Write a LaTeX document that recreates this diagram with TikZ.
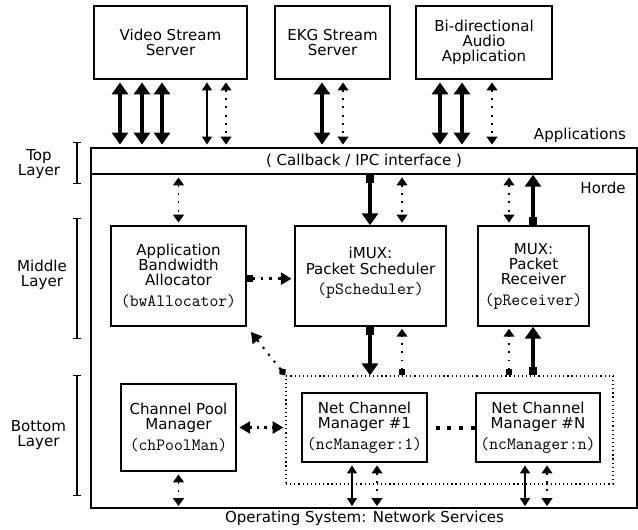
\documentclass[tikz,border=0pt]{standalone}
\usepackage{fontspec}
\setmainfont{DejaVu Sans}
\usetikzlibrary{arrows.meta}

\newcommand\code[1]{{\fontsize{12.9}{11.4}\selectfont\ttfamily #1}}

\tikzset{
  txt/.style={font=\fontsize{11.3}{11.4}\selectfont, align=center, inner sep=0pt},
  box/.style={txt, draw, line width=1.1pt},
  grpline/.style={line width=0.9pt, dash pattern=on 0.9pt off 2.2pt},
  bracket/.style={line width=0.9pt, {Bar[width=6pt]}-{Bar[width=6pt]}},
  bigboth/.style={line width=2.4pt, {Triangle[width=12pt,length=9pt]}-{Triangle[width=12pt,length=9pt]}},
  bigone/.style={line width=2.4pt, {Square[width=6.5pt,length=6pt]}-{Triangle[width=12pt,length=9pt]}},
  thinboth/.style={line width=1.1pt, {Triangle[width=7.5pt,length=6pt]}-{Triangle[width=7.5pt,length=6pt]}},
  dotboth/.style={line width=1.4pt, dash pattern=on 1.4pt off 4.8pt, {Triangle[width=8pt,length=6pt]}-{Triangle[width=8pt,length=6pt]}},
  dotone/.style={line width=1.4pt, dash pattern=on 1.4pt off 4.8pt, {Square[width=5pt,length=5pt]}-{Triangle[width=8pt,length=6pt]}},
  bigdot/.style={line width=2pt, dash pattern=on 2pt off 4.5pt}
}

\begin{document}
\begin{tikzpicture}[x=0.75pt, y=-0.75pt]
\useasboundingbox (0,0) rectangle (638,529);

% applications
\node[box, minimum width=114.75pt, minimum height=54.75pt] (video) at (170.5,42.5) {Video Stream\\Server};
\node[box, minimum width=86.25pt, minimum height=54.75pt] (ekg) at (332.5,42.5) {EKG Stream\\Server};
\node[box, minimum width=102pt, minimum height=54.75pt] (audio) at (484,42.5) {Bi-directional\\Audio\\Application};
\node[txt] (apps) at (580,135) {Applications};

% horde frame
\node[draw, line width=1.1pt, minimum width=409.5pt, minimum height=270pt] (horde) at (364,328) {};
\node[box, minimum width=409.5pt, minimum height=19.5pt] (cb) at (364,161) {( Callback / IPC interface )};
\node[txt, anchor=east] (hordelbl) at (626,188) {Horde};
\node[txt] (os) at (364.5,518) {Operating System: Network Services};

% layers
\node[txt] (toplbl) at (39,164) {Top\\Layer};
\node[txt] (midlbl) at (42,275) {Middle\\Layer};
\node[txt] (botlbl) at (38.5,435) {Bottom\\Layer};
\draw[bracket] (77,142) -- (77,184);
\draw[bracket] (77,218) -- (77,339);
\draw[bracket] (77,375) -- (77,496);

% middle layer
\node[box, minimum width=101.25pt, minimum height=75pt] (bw) at (178.5,276) {Application\\Bandwidth\\Allocator\\[4pt]\code{(bwAllocator)}};
\node[box, minimum width=113.25pt, minimum height=75pt] (psched) at (370.5,276) {iMUX:\\Packet Scheduler\\[4pt]\code{(pScheduler)}\\[-4pt]};
\node[box, minimum width=83.25pt, minimum height=75pt] (precv) at (533.5,276) {MUX:\\Packet\\Receiver\\[4pt]\code{(pReceiver)}};

% bottom layer
\node[draw, grpline, minimum width=245.25pt, minimum height=81pt] (grp) at (449.5,430) {};
\node[box, minimum width=86.25pt, minimum height=65.25pt] (chpool) at (178.5,427.5) {Channel Pool\\Manager\\[4pt]\code{(chPoolMan)}};
\node[box, minimum width=93.75pt, minimum height=51.75pt] (ncm1) at (364.5,427.5) {Net Channel\\Manager \#1\\[4pt]\code{(ncManager:1)}};
\node[box, minimum width=93pt, minimum height=51.75pt] (ncmN) at (538,427.5) {Net Channel\\Manager \#N\\[4pt]\code{(ncManager:n)}};

% applications <-> callback
\foreach \x in {120,142,162}
  \draw[bigboth, shorten <=2pt, shorten >=2pt] (\x,0 |- video.south) -- (\x,0 |- cb.north);
\draw[thinboth, shorten <=2pt, shorten >=2pt] (207,0 |- video.south) -- (207,0 |- cb.north);
\draw[dotboth, shorten <=2pt, shorten >=2pt] (226,0 |- video.south) -- (226,0 |- cb.north);
\draw[bigboth, shorten <=2pt, shorten >=2pt] (322,0 |- ekg.south) -- (322,0 |- cb.north);
\draw[dotboth, shorten <=2pt, shorten >=2pt] (343,0 |- ekg.south) -- (343,0 |- cb.north);
\foreach \x in {440,462}
  \draw[bigboth, shorten <=2pt, shorten >=2pt] (\x,0 |- audio.south) -- (\x,0 |- cb.north);
\draw[dotboth, shorten <=2pt, shorten >=2pt] (492,0 |- audio.south) -- (492,0 |- cb.north);

% callback <-> middle
\draw[dotboth, shorten <=2pt, shorten >=2pt] (bw.north |- cb.south) -- (bw.north);
\draw[bigone] (370,0 |- cb.south) -- (370,0 |- psched.north);
\draw[dotboth, shorten <=2pt, shorten >=2pt] (402,0 |- cb.south) -- (402,0 |- psched.north);
\draw[dotboth, shorten <=2pt, shorten >=2pt] (509,0 |- cb.south) -- (509,0 |- precv.north);
\draw[bigone] (533,0 |- precv.north) -- (533,0 |- cb.south);

% middle <-> bottom
\draw[bigone] (370,0 |- psched.south) -- (370,0 |- grp.north);
\draw[dotone, shorten >=1.5pt] (402,0 |- grp.north) -- (402,0 |- psched.south);
\draw[dotone, shorten >=1.5pt] (509,0 |- grp.north) -- (509,0 |- precv.south);
\draw[bigone] (533,0 |- grp.north) -- (533,0 |- precv.south);
\draw[bigdot, {Square[width=5pt,length=5pt]}-{Triangle[width=9pt,length=8pt]}, shorten >=2pt] ([yshift=-2pt]bw.east) -- ([yshift=-2pt]psched.west);
\draw[bigdot, line width=1.6pt, dash pattern=on 1.6pt off 5pt, {Diamond[width=6pt,length=7pt]}-{Triangle[width=9pt,length=8pt]}, shorten >=5pt] (grp.north west) -- (bw.south east);

% bottom
\draw[bigdot, line width=1.6pt, dash pattern=on 1.6pt off 4pt, {Triangle[width=9pt,length=8pt]}-{Triangle[width=9pt,length=8pt]}, shorten <=2pt, shorten >=1.5pt] (chpool.east) -- (grp.west |- chpool.east);
\draw[line width=3pt, dash pattern=on 3pt off 5.75pt, shorten <=6pt] (ncm1.east) -- (ncmN.west |- ncm1.east);
\draw[dotboth, shorten <=2pt, shorten >=2pt] (chpool.south) -- (chpool.south |- horde.south);
\draw[thinboth, shorten <=2pt, shorten >=2pt] (352,0 |- ncm1.south) -- (352,0 |- horde.south);
\draw[dotboth, shorten <=2pt, shorten >=2pt] (377,0 |- ncm1.south) -- (377,0 |- horde.south);
\draw[thinboth, shorten <=2pt, shorten >=2pt] (525,0 |- ncmN.south) -- (525,0 |- horde.south);
\draw[dotboth, shorten <=2pt, shorten >=2pt] (547,0 |- ncmN.south) -- (547,0 |- horde.south);

\end{tikzpicture}
\end{document}
